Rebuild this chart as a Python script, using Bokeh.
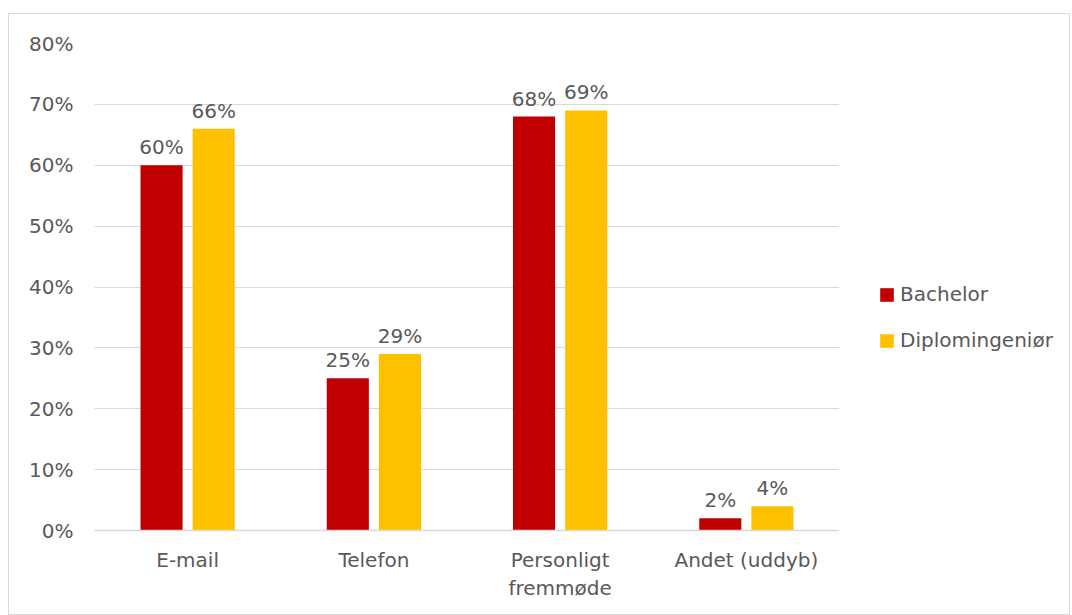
from bokeh.plotting import figure
from bokeh.layouts import row
from bokeh.models import ColumnDataSource, Legend, LegendItem, FactorRange, PrintfTickFormatter, FixedTicker
from bokeh.transform import dodge
from bokeh.core.properties import value
from bokeh.embed import file_html
from bokeh.resources import INLINE

categories = ["E-mail", "Telefon", "Personligt\nfremmøde", "Andet (uddyb)"]
bachelor = [60, 25, 68, 2]
diplom = [66, 29, 69, 4]
series_names = ["Bachelor", "Diplomingeniør"]
y_ticks = [0, 10, 20, 30, 40, 50, 60, 70, 80]

FONT = "DejaVu Sans"
FS = "20px"
TXT = "#595959"
GRID = "#d9d9d9"
RED = "#c00000"
YEL = "#ffc000"

src = ColumnDataSource(dict(
    cat=categories,
    b=bachelor,
    d=diplom,
    bl=[f"{v}%" for v in bachelor],
    dl=[f"{v}%" for v in diplom],
))

H = 600
p = figure(x_range=FactorRange(*categories, range_padding=0), y_range=(0, 80),
           width=830, height=H, output_backend="svg", toolbar_location=None,
           min_border_left=85, min_border_right=0, min_border_top=29, min_border_bottom=84)
p.outline_line_color = None
p.background_fill_color = "white"

r1 = p.vbar(x=dodge("cat", -0.14, range=p.x_range), top="b", width=0.226, source=src,
            fill_color=RED, line_color=None)
r2 = p.vbar(x=dodge("cat", 0.14, range=p.x_range), top="d", width=0.226, source=src,
            fill_color=YEL, line_color=None)

p.text(x=dodge("cat", -0.14, range=p.x_range), y="b", text="bl", source=src,
       text_align="center", text_baseline="bottom", y_offset=-6,
       text_font=value(FONT), text_font_size=FS, text_color=TXT)
p.text(x=dodge("cat", 0.14, range=p.x_range), y="d", text="dl", source=src,
       text_align="center", text_baseline="bottom", y_offset=-6,
       text_font=value(FONT), text_font_size=FS, text_color=TXT)

p.yaxis.ticker = FixedTicker(ticks=y_ticks)
p.yaxis.formatter = PrintfTickFormatter(format="%d%%")
p.yaxis.axis_line_color = None
p.yaxis.major_tick_line_color = None
p.yaxis.major_tick_out = 0
p.yaxis.major_tick_in = 0
p.yaxis.minor_tick_line_color = None
p.yaxis.major_label_standoff = 21
p.yaxis.major_label_text_font = FONT
p.yaxis.major_label_text_font_size = FS
p.yaxis.major_label_text_color = TXT

p.xaxis.axis_line_color = GRID
p.xaxis.axis_line_width = 1.5
p.xaxis.major_tick_line_color = None
p.xaxis.major_tick_out = 0
p.xaxis.major_tick_in = 0
p.xaxis.minor_tick_line_color = None
p.xaxis.major_label_standoff = 17
p.xaxis.major_label_text_font = FONT
p.xaxis.major_label_text_font_size = FS
p.xaxis.major_label_text_color = TXT
p.xaxis.major_label_text_line_height = 1.2

p.xgrid.grid_line_color = None
p.ygrid.grid_line_color = GRID
p.ygrid.grid_line_width = 1.2

# legend host (zero-width bars from the same data, only used for legend swatches)
q = figure(x_range=FactorRange(*categories), y_range=(0, 80), width=230, height=H,
           output_backend="svg", toolbar_location=None, min_border=0)
q.axis.visible = False
q.grid.grid_line_color = None
q.outline_line_color = None
lr1 = q.vbar(x="cat", top="b", width=0, source=src, fill_color=RED, line_color=None)
lr2 = q.vbar(x="cat", top="d", width=0, source=src, fill_color=YEL, line_color=None)

legend = Legend(items=[LegendItem(label=series_names[0], renderers=[lr1]),
                       LegendItem(label=series_names[1], renderers=[lr2])],
                location=(39, 178), orientation="vertical",
                glyph_height=17, glyph_width=17, label_height=20, spacing=22,
                label_standoff=5, padding=0, margin=0, border_line_color=None,
                background_fill_alpha=0,
                label_text_font=FONT, label_text_font_size=FS, label_text_color=TXT)
q.add_layout(legend, "center")

layout = row(p, q, margin=(13, 0, 0, 8))
layout.styles = {"border": "1px solid #d9d9d9"}

open("out.html", "w").write(file_html(layout, INLINE))
